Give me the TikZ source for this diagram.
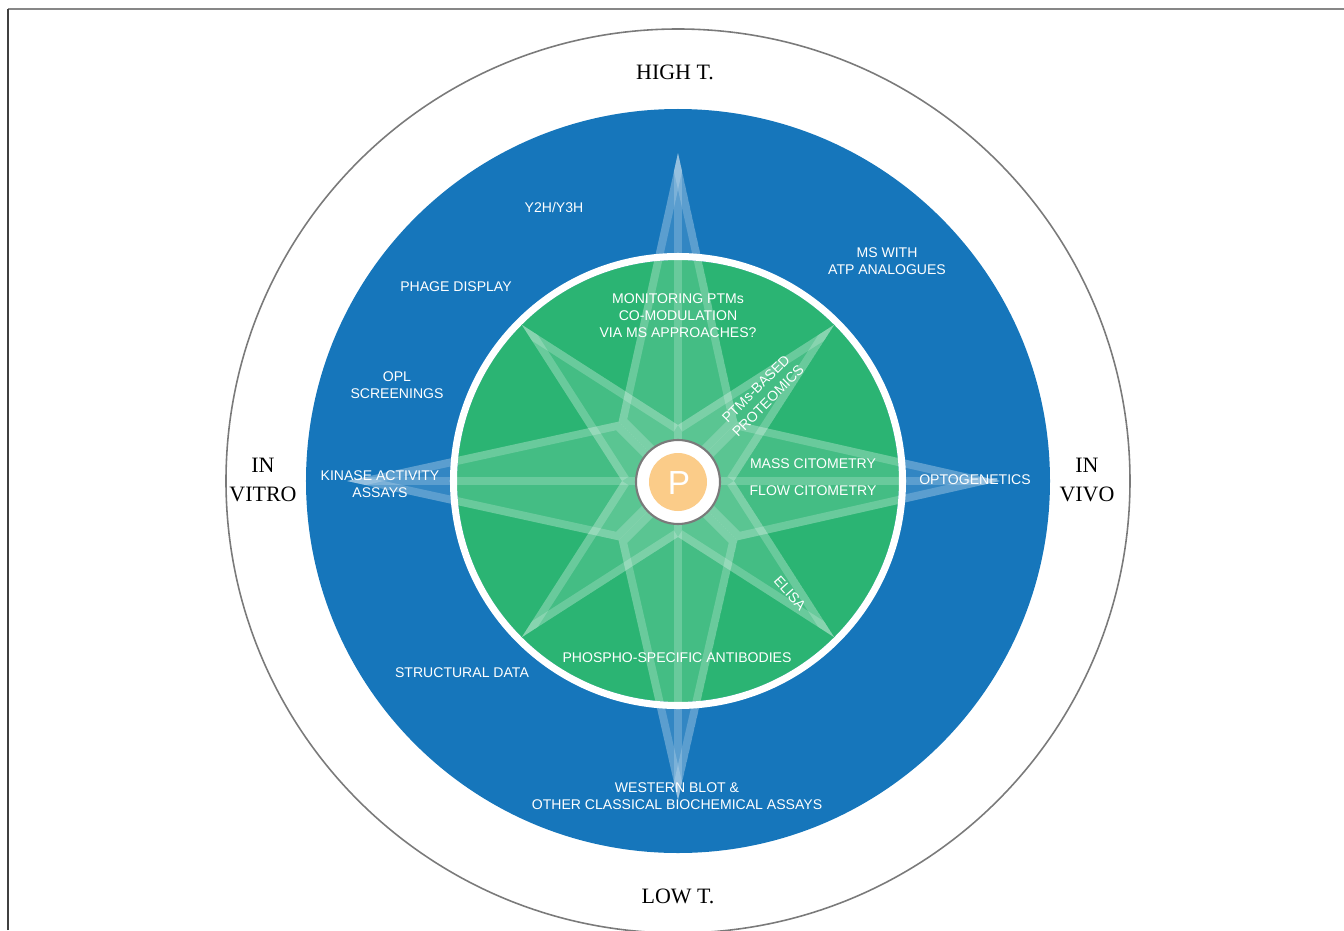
\documentclass[tikz,border=0pt]{standalone}
\usepackage{fontspec}
\setmainfont{Liberation Serif}
\setsansfont{Liberation Sans}
\definecolor{discblue}{RGB}{22,118,187}
\definecolor{discgreen}{RGB}{43,180,115}
\definecolor{pcore}{RGB}{251,204,137}
\definecolor{ringgray}{RGB}{122,122,122}
\begin{document}
\begin{tikzpicture}[x=0.02cm, y=0.02cm]
        \tikzstyle{every node}=[inner sep=0pt, align=center]
        \tikzstyle{axis label}=[font=\fontsize{12.5}{16}\selectfont]
        \tikzstyle{method}=[text=white, font=\sffamily\fontsize{8}{9.7}\selectfont]
        \tikzstyle{ray}=[white, opacity=0.2, line width=9pt, line cap=butt]
        \tikzstyle{ray fill}=[white, fill opacity=0.12]
        \useasboundingbox (-678,-449) rectangle (666,481);
        % frame
        \draw[ringgray!90, line width=1.1pt] (-670,472) -- (666,472);
        \draw[black!75, line width=1.1pt] (-670,-449) -- (-670,472);
        % discs
        \draw[ringgray, line width=0.9pt] (0,0) circle (452);
        \fill[discblue] (0,0) circle (372);
        \fill[discgreen] (0,0) circle (221);
        % star, long points
        \foreach \a/\r in {90/328, 0/322, 270/319, 180/331} {
            \begin{scope}
                \clip (\a:\r) -- (\a+45:84) -- (0,0) -- (\a-45:84) -- cycle;
                \fill[ray fill] (\a:\r) -- (\a+45:84) -- (0,0) -- (\a-45:84) -- cycle;
                \draw[ray] (\a:\r) -- (\a+45:84) -- (0,0);
                \draw[ray] (\a:\r) -- (\a-45:84) -- (0,0);
                \draw[ray, line width=5pt] (\a:\r) -- (0,0);
            \end{scope}
        }
        % star, short points
        \foreach \a in {45, 135, 225, 315} {
            \begin{scope}
                \clip (\a:221) -- (\a+45:56) -- (0,0) -- (\a-45:56) -- cycle;
                \fill[ray fill] (\a:221) -- (\a+45:56) -- (0,0) -- (\a-45:56) -- cycle;
                \draw[ray] (\a:221) -- (\a+45:56);
                \draw[ray] (\a:221) -- (\a-45:56);
            \end{scope}
        }
        \draw[white, line width=4pt] (0,0) circle (224.5);
        % P
        \filldraw[fill=white, draw=ringgray, line width=1.2pt] (0,-1) circle (42);
        \fill[pcore] (0,-1) circle (29);
        \node[text=white, font=\sffamily\fontsize{19}{19}\selectfont] (pletter) at (1,-2) {P};
        % outer ring
        \node[axis label] (hight) at (-3,409) {HIGH T.};
        \node[axis label] (lowt) at (0,-415) {LOW T.};
        \node[axis label] (invitro) at (-415,1) {IN\\VITRO};
        \node[axis label] (invivo) at (409,1) {IN\\VIVO};
        % blue ring
        \node[method] (y2h) at (-124,274) {Y2H/Y3H};
        \node[method] (mswith) at (209,220) {MS WITH\\ATP ANALOGUES};
        \node[method] (phage) at (-222,194) {PHAGE DISPLAY};
        \node[method] (opl) at (-281,96) {OPL\\SCREENINGS};
        \node[method] (kinase) at (-298,-3) {KINASE ACTIVITY\\ASSAYS};
        \node[method] (structural) at (-216,-192) {STRUCTURAL DATA};
        \node[method] (western) at (-1,-315) {WESTERN BLOT \&\\OTHER CLASSICAL BIOCHEMICAL ASSAYS};
        \node[method] (opto) at (297,1) {OPTOGENETICS};
        % green disc
        \node[method] (monitoring) at (0,165) {MONITORING PTMs\\CO-MODULATION\\VIA MS APPROACHES?};
        \node[method, rotate=45] (ptms) at (84,86) {PTMs-BASED\\PROTEOMICS};
        \node[method] (mass) at (135,17) {MASS CITOMETRY};
        \node[method] (flow) at (135,-10) {FLOW CITOMETRY};
        \node[method, rotate=-48] (elisa) at (112,-112) {ELISA};
        \node[method] (phospho) at (-1,-177) {PHOSPHO-SPECIFIC ANTIBODIES};
\end{tikzpicture}
\end{document}
